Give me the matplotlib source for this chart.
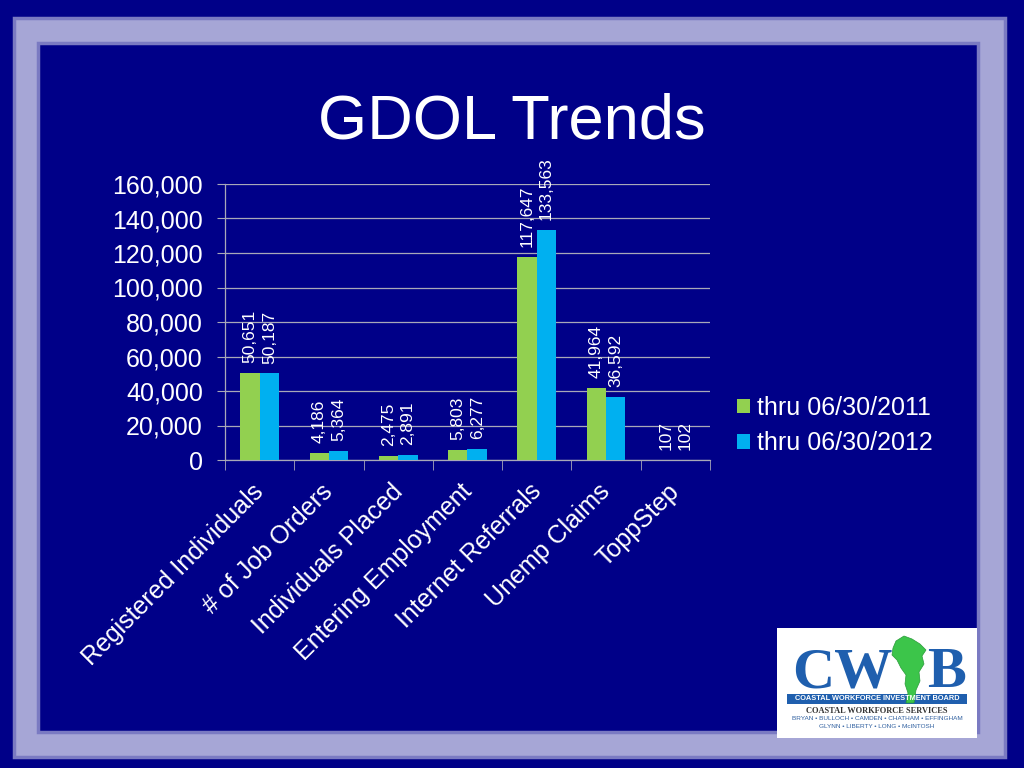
import numpy as np
import matplotlib.pyplot as plt
from matplotlib.patches import Rectangle, Polygon, Patch
from matplotlib.ticker import FuncFormatter
from matplotlib.transforms import ScaledTranslation

plt.rcParams['font.family'] = ['Liberation Sans', 'DejaVu Sans']

#%%     Data
categories = ['Registered Individuals', '# of Job Orders', 'Individuals Placed',
              'Entering Employment', 'Internet Referrals', 'Unemp Claims', 'ToppStep']
thru_2011 = [50651, 4186, 2475, 5803, 117647, 41964, 107]
thru_2012 = [50187, 5364, 2891, 6277, 133563, 36592, 102]
series_names = ['thru 06/30/2011', 'thru 06/30/2012']
series_colors = ['#92D050', '#00B0F0']

navy = '#000088'
W, H = 1024, 768

fig = plt.figure(figsize=(10.24, 7.68), dpi=100)
fig.patch.set_facecolor(navy)


def box(x0, y0, x1, y1):
    # pixel box (top-left origin) -> figure fraction rect
    return (x0 / W, 1 - y1 / H), (x1 - x0) / W, (y1 - y0) / H


#%%     Slide frame
xy, w, h = box(14, 18, 1005, 757)
fig.patches.append(Rectangle(xy, w, h, transform=fig.transFigure, facecolor='#a6a6d6',
                             edgecolor='#7a7ac2', lw=2.5, zorder=-3))
xy, w, h = box(38, 43, 978, 732)
fig.patches.append(Rectangle(xy, w, h, transform=fig.transFigure, facecolor=navy,
                             edgecolor='#7a7ac2', lw=2.5, zorder=-2))

fig.text(512 / W, 1 - 122 / H, 'GDOL Trends', ha='center', va='center',
         fontsize=45.5, color='white')

#%%     Chart
ax = fig.add_axes([225 / W, 1 - 460 / H, (710 - 225) / W, (460 - 184) / H])
ax.set_facecolor('none')

x = np.arange(len(categories))
bw = 0.28
for k, (vals, col) in enumerate(zip([thru_2011, thru_2012], series_colors)):
    xs = x + (k - 0.5) * bw
    ax.bar(xs, vals, width=bw, color=col, zorder=3)
    for xi, v in zip(xs, vals):
        ax.annotate(f'{v:,}', (xi, v), xytext=(0, 7), textcoords='offset points',
                    rotation=90, ha='center', va='bottom', fontsize=12.5, color='white')

ax.set_xlim(-0.5, len(categories) - 0.5)
ax.set_ylim(0, 160000)
ax.set_yticks(np.arange(0, 160001, 20000))
ax.yaxis.set_major_formatter(FuncFormatter(lambda v, p: f'{int(v):,}'))
ax.grid(axis='y', color='#a8a8b8', lw=0.9, zorder=0)

for s in ['top', 'right']:
    ax.spines[s].set_visible(False)
for s in ['left', 'bottom']:
    ax.spines[s].set_color('#a8a8b8')
    ax.spines[s].set_linewidth(0.9)

ax.tick_params(axis='y', colors='#a8a8b8', labelcolor='white', labelsize=18, length=6, pad=10)
ax.set_xticks(x)
ax.set_xticklabels(categories, rotation=45, ha='right', rotation_mode='anchor',
                   fontsize=18, color='white')
ax.tick_params(axis='x', which='major', length=0, pad=14)
shift = ScaledTranslation(-8 / 100, 0, fig.dpi_scale_trans)
for lab in ax.get_xticklabels():
    lab.set_transform(lab.get_transform() + shift)
ax.set_xticks(np.arange(-0.5, len(categories)), minor=True)
ax.tick_params(axis='x', which='minor', length=7, color='#a8a8b8')

handles = [Patch(facecolor=c, label=n) for c, n in zip(series_colors, series_names)]
fig.legend(handles=handles, loc='upper left', bbox_to_anchor=(727 / W, 1 - 386 / H),
           frameon=False, fontsize=18, labelcolor='white', handlelength=0.5,
           handleheight=0.5, handletextpad=0.3, labelspacing=0.45, borderaxespad=0)

#%%     Logo
logo_blue = '#1f5fae'
xy, w, h = box(777, 628, 977, 738)
fig.patches.append(Rectangle(xy, w, h, transform=fig.transFigure, facecolor='white',
                             edgecolor='none', zorder=1))
xy, w, h = box(787, 694, 967, 704)
fig.patches.append(Rectangle(xy, w, h, transform=fig.transFigure, facecolor=logo_blue,
                             edgecolor='none', zorder=2))
shape = [(896, 641), (904, 636), (912, 639), (920, 644), (926, 650), (922, 656),
         (924, 664), (919, 672), (920, 681), (916, 690), (914, 703), (906, 703),
         (908, 693), (905, 684), (906, 675), (901, 668), (897, 660), (892, 655),
         (893, 648)]
fig.patches.append(Polygon([(a / W, 1 - b / H) for a, b in shape], closed=True,
                           transform=fig.transFigure, facecolor='#3cc54a',
                           edgecolor='#2a9a3a', lw=0.5, zorder=2))
fig.text(792 / W, 1 - 687 / H, 'CW', family='Liberation Serif', weight='bold',
         fontsize=42, color=logo_blue, ha='left', va='baseline', zorder=3)
fig.text(927 / W, 1 - 687 / H, 'B', family='Liberation Serif', weight='bold',
         fontsize=42, color=logo_blue, ha='left', va='baseline', zorder=3)
fig.text(877 / W, 1 - 699 / H, 'COASTAL WORKFORCE INVESTMENT BOARD', weight='bold',
         fontsize=5.3, color='white', ha='center', va='center', zorder=3)
fig.text(877 / W, 1 - 711 / H, 'COASTAL WORKFORCE SERVICES', family='Liberation Serif',
         weight='bold', fontsize=6, color='#333333', ha='center', va='center', zorder=3)
fig.text(877 / W, 1 - 719 / H, 'BRYAN • BULLOCH • CAMDEN • CHATHAM • EFFINGHAM',
         fontsize=4.6, color='#3060a0', ha='center', va='center', zorder=3)
fig.text(877 / W, 1 - 726 / H, 'GLYNN • LIBERTY • LONG • McINTOSH',
         fontsize=4.6, color='#3060a0', ha='center', va='center', zorder=3)

fig.savefig('out.png', dpi=100, facecolor=fig.get_facecolor())
